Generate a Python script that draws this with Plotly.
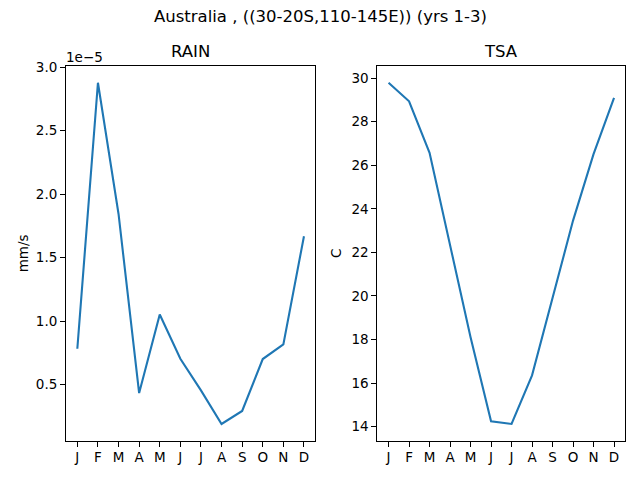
import plotly.graph_objects as go

# monthly climatology, Australia (30-20S, 110-145E), years 1-3
months = ["Jan", "Feb", "Mar", "Apr", "May", "Jun", "Jul", "Aug", "Sep", "Oct", "Nov", "Dec"]
month_letters = ["J", "F", "M", "A", "M", "J", "J", "A", "S", "O", "N", "D"]

rain = [0.783e-5, 2.877e-5, 1.844e-5, 0.434e-5, 1.053e-5, 0.704e-5,
        0.455e-5, 0.191e-5, 0.293e-5, 0.702e-5, 0.817e-5, 1.669e-5]  # mm/s
tsa = [29.79, 28.94, 26.57, 22.3, 18.1, 14.24,
       14.12, 16.35, 19.9, 23.46, 26.51, 29.1]  # C

rain_ticks = [0.5e-5, 1.0e-5, 1.5e-5, 2.0e-5, 2.5e-5, 3.0e-5]
rain_ticktext = ["0.5", "1.0", "1.5", "2.0", "2.5", "3.0"]
tsa_ticks = [14, 16, 18, 20, 22, 24, 26, 28, 30]

FONT = "DejaVu Sans"
BLUE = "#1f77b4"

# the page body has an 8px margin, so the figure sits at (8, 8) in the window
OFF = 8
W, H = 640 - OFF, 480 - OFF


def px_x(x):
    return (x - OFF) / W


def px_y(y):
    return 1 - (y - OFF) / H


def pad_range(vals, frac=0.05):
    lo, hi = min(vals), max(vals)
    d = (hi - lo) * frac
    return [lo - d, hi + d]


fig = go.Figure()
fig.add_trace(go.Scatter(x=months, y=rain, mode="lines", line=dict(color=BLUE, width=2.1),
                         xaxis="x", yaxis="y", showlegend=False))
fig.add_trace(go.Scatter(x=months, y=tsa, mode="lines", line=dict(color=BLUE, width=2.1),
                         xaxis="x2", yaxis="y2", showlegend=False))

axis_common = dict(showline=True, mirror=True, linecolor="black", linewidth=1,
                   showgrid=False, zeroline=False, ticks="outside", ticklen=5,
                   tickcolor="black", tickwidth=1, automargin=False,
                   tickfont=dict(family=FONT, size=13.5, color="black"))

top, bottom = px_y(65.7), px_y(441)
left_dom = [px_x(66), px_x(315.3)]
right_dom = [px_x(377.3), px_x(625.3)]

fig.update_layout(
    width=W, height=H,
    margin=dict(l=0, r=0, t=0, b=0),
    paper_bgcolor="white", plot_bgcolor="white",
    font=dict(family=FONT, color="black"),
    xaxis=dict(domain=left_dom, anchor="y", type="category", range=[-0.55, 11.55],
               tickvals=months, ticktext=month_letters, ticklabelstandoff=-1, **axis_common),
    yaxis=dict(domain=[bottom, top], anchor="x", range=pad_range(rain),
               tickvals=rain_ticks, ticktext=rain_ticktext,
               title=dict(text="mm/s", standoff=4, font=dict(family=FONT, size=13.5)),
               **axis_common),
    xaxis2=dict(domain=right_dom, anchor="y2", type="category", range=[-0.55, 11.55],
                tickvals=months, ticktext=month_letters, ticklabelstandoff=-1, **axis_common),
    yaxis2=dict(domain=[bottom, top], anchor="x2", range=pad_range(tsa),
                tickvals=tsa_ticks,
                title=dict(text="C", standoff=6, font=dict(family=FONT, size=13.5)),
                **axis_common),
)

fig.add_annotation(text="Australia , ((30-20S,110-145E)) (yrs 1-3)", x=px_x(320), y=px_y(17),
                   xref="paper", yref="paper", showarrow=False, xanchor="center", yanchor="middle",
                   font=dict(family=FONT, size=16.5))
for dom, name in [(left_dom, "RAIN"), (right_dom, "TSA")]:
    fig.add_annotation(text=name, x=(dom[0] + dom[1]) / 2, y=px_y(51.5),
                       xref="paper", yref="paper", showarrow=False, xanchor="center",
                       yanchor="middle", font=dict(family=FONT, size=16.5))
fig.add_annotation(text="1e\u22125", x=left_dom[0], y=top, xref="paper", yref="paper",
                   showarrow=False, xanchor="left", yanchor="bottom", xshift=-2, yshift=-1,
                   font=dict(family=FONT, size=13.5))

fig.write_html("out.html")
